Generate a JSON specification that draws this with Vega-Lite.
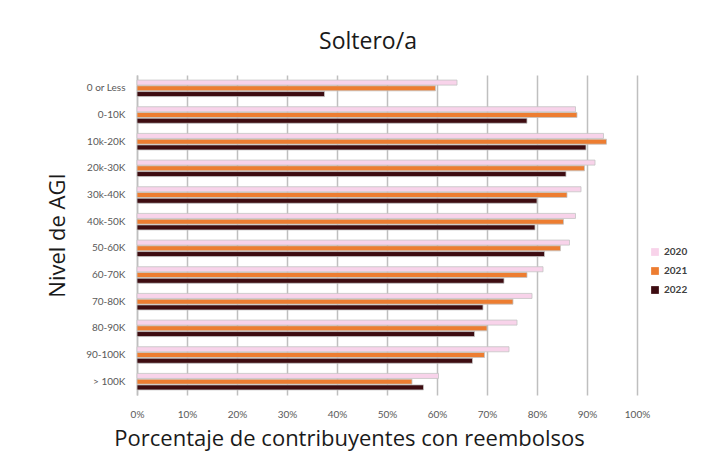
{
  "$schema": "https://vega.github.io/schema/vega-lite/v6.json",
  "autosize": {"type": "none"},
  "width": 500,
  "height": 320,
  "padding": {"left": 137, "top": 75, "right": 74, "bottom": 75},
  "background": "white",
  "title": {
    "text": "Soltero/a",
    "font": "Open Sans",
    "fontSize": 23,
    "fontWeight": "normal",
    "color": "#1a1a1a",
    "offset": 21,
    "dx": -19
  },
  "data": {
    "values": [
      {"agi": "0 or Less", "year": "2020", "pct": 0.640},
      {"agi": "0 or Less", "year": "2021", "pct": 0.597},
      {"agi": "0 or Less", "year": "2022", "pct": 0.375},
      {"agi": "0-10K", "year": "2020", "pct": 0.877},
      {"agi": "0-10K", "year": "2021", "pct": 0.880},
      {"agi": "0-10K", "year": "2022", "pct": 0.780},
      {"agi": "10k-20K", "year": "2020", "pct": 0.933},
      {"agi": "10k-20K", "year": "2021", "pct": 0.939},
      {"agi": "10k-20K", "year": "2022", "pct": 0.898},
      {"agi": "20k-30K", "year": "2020", "pct": 0.916},
      {"agi": "20k-30K", "year": "2021", "pct": 0.895},
      {"agi": "20k-30K", "year": "2022", "pct": 0.858},
      {"agi": "30k-40K", "year": "2020", "pct": 0.888},
      {"agi": "30k-40K", "year": "2021", "pct": 0.860},
      {"agi": "30k-40K", "year": "2022", "pct": 0.800},
      {"agi": "40k-50K", "year": "2020", "pct": 0.877},
      {"agi": "40k-50K", "year": "2021", "pct": 0.853},
      {"agi": "40k-50K", "year": "2022", "pct": 0.796},
      {"agi": "50-60K", "year": "2020", "pct": 0.865},
      {"agi": "50-60K", "year": "2021", "pct": 0.847},
      {"agi": "50-60K", "year": "2022", "pct": 0.815},
      {"agi": "60-70K", "year": "2020", "pct": 0.812},
      {"agi": "60-70K", "year": "2021", "pct": 0.780},
      {"agi": "60-70K", "year": "2022", "pct": 0.734},
      {"agi": "70-80K", "year": "2020", "pct": 0.790},
      {"agi": "70-80K", "year": "2021", "pct": 0.752},
      {"agi": "70-80K", "year": "2022", "pct": 0.692},
      {"agi": "80-90K", "year": "2020", "pct": 0.760},
      {"agi": "80-90K", "year": "2021", "pct": 0.700},
      {"agi": "80-90K", "year": "2022", "pct": 0.675},
      {"agi": "90-100K", "year": "2020", "pct": 0.744},
      {"agi": "90-100K", "year": "2021", "pct": 0.695},
      {"agi": "90-100K", "year": "2022", "pct": 0.671},
      {"agi": "> 100K", "year": "2020", "pct": 0.603},
      {"agi": "> 100K", "year": "2021", "pct": 0.550},
      {"agi": "> 100K", "year": "2022", "pct": 0.573}
    ]
  },
  "mark": {"type": "bar", "stroke": "#c4c4c4", "strokeWidth": 0.8},
  "encoding": {
    "y": {
      "field": "agi",
      "type": "nominal",
      "sort": ["0 or Less", "0-10K", "10k-20K", "20k-30K", "30k-40K", "40k-50K", "50-60K", "60-70K", "70-80K", "80-90K", "90-100K", "> 100K"],
      "scale": {"paddingInner": 0.38, "paddingOuter": 0.19},
      "axis": {
        "title": "Nivel de AGI",
        "titleFont": "Open Sans",
        "titleFontSize": 22,
        "titleFontWeight": "normal",
        "titleColor": "#1a1a1a",
        "titlePadding": 16,
        "labelFont": "Lato",
        "labelFontSize": 10,
        "labelColor": "#595959",
        "labelPadding": 12,
        "ticks": false,
        "domainColor": "#bfbfbf",
        "domainWidth": 1.5
      }
    },
    "yOffset": {
      "field": "year",
      "type": "nominal",
      "scale": {"paddingInner": 0.12, "paddingOuter": 0}
    },
    "x": {
      "field": "pct",
      "type": "quantitative",
      "scale": {"domain": [0, 1]},
      "axis": {
        "title": "Porcentaje de contribuyentes con reembolsos",
        "titleFont": "Open Sans",
        "titleFontSize": 22,
        "titleFontWeight": "normal",
        "titleColor": "#1a1a1a",
        "titlePadding": 9,
        "titleX": 212,
        "format": ".0%",
        "values": [0, 0.1, 0.2, 0.3, 0.4, 0.5, 0.6, 0.7, 0.8, 0.9, 1.0],
        "labelOverlap": false,
        "labelFlush": false,
        "labelFont": "Lato",
        "labelFontSize": 10,
        "labelColor": "#595959",
        "labelPadding": 14,
        "ticks": false,
        "domain": false,
        "grid": true,
        "gridColor": "#bfbfbf",
        "gridWidth": 1.5
      }
    },
    "color": {
      "field": "year",
      "type": "nominal",
      "scale": {"domain": ["2020", "2021", "2022"], "range": ["#f8d3ea", "#ed7d31", "#3d0c11"]},
      "legend": {
        "title": null,
        "orient": "none",
        "legendX": 513,
        "legendY": 172,
        "symbolType": "square",
        "symbolSize": 60,
        "symbolStrokeWidth": 0,
        "rowPadding": 9,
        "labelFont": "Lato",
        "labelFontSize": 10,
        "labelFontWeight": "bold",
        "labelColor": "#404040"
      }
    }
  },
  "config": {
    "view": {"stroke": null},
    "axisY": {"grid": false}
  }
}
